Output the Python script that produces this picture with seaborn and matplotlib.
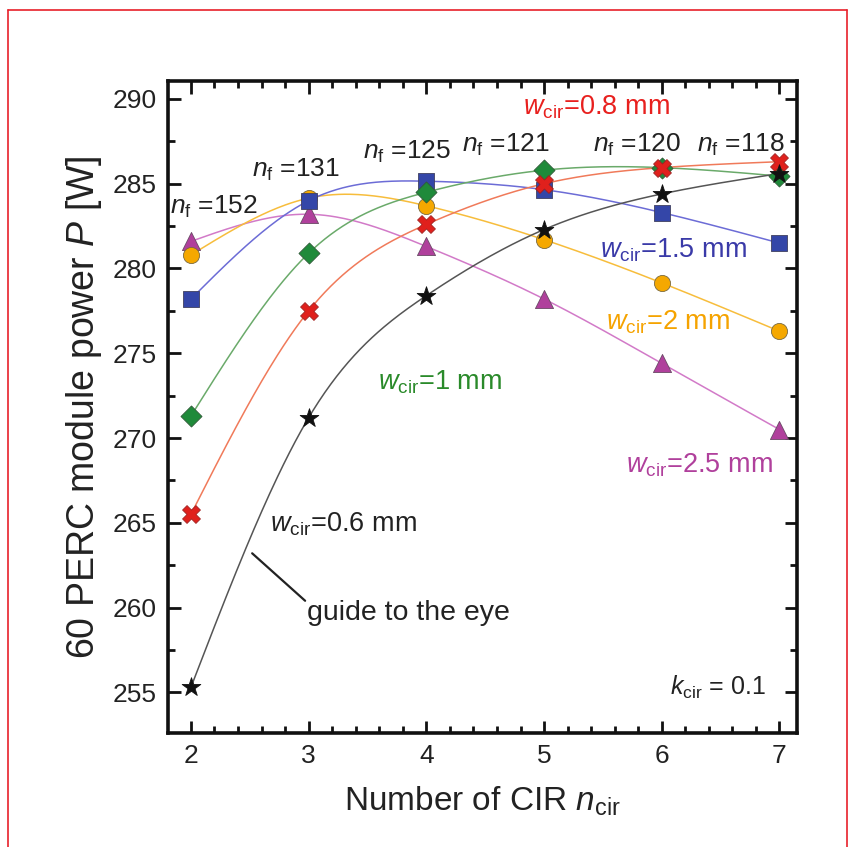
import numpy as np
import pandas as pd
import matplotlib
matplotlib.use("Agg")
import matplotlib.pyplot as plt
import seaborn as sns
from matplotlib.lines import Line2D
from matplotlib.ticker import MultipleLocator

# ---------------- data ----------------
n_cir = [2, 3, 4, 5, 6, 7]
p_w06 = [255.3, 271.2, 278.4, 282.3, 284.4, 285.6]
p_w08 = [265.5, 277.5, 282.6, 285.0, 285.95, 286.3]
p_w10 = [271.3, 280.9, 284.5, 285.8, 285.95, 285.45]
p_w15 = [278.2, 284.0, 285.15, 284.65, 283.3, 281.5]
p_w20 = [280.8, 284.15, 283.7, 281.7, 279.15, 276.3]
p_w25 = [281.6, 283.2, 281.3, 278.2, 274.4, 270.5]
nf_values = ["152", "131", "125", "121", "120", "118"]
x_ticks = [2, 3, 4, 5, 6, 7]
y_ticks = [255, 260, 265, 270, 275, 280, 285, 290]

sns.set_theme(style="ticks")
plt.rcParams["font.family"] = ["Liberation Sans", "DejaVu Sans"]
plt.rcParams["mathtext.fontset"] = "custom"
plt.rcParams["mathtext.rm"] = "Liberation Sans"
plt.rcParams["mathtext.it"] = "Liberation Sans:italic"
plt.rcParams["mathtext.bf"] = "Liberation Sans:bold"


def natural_spline(x, y, n=300):
    x = np.asarray(x, float)
    y = np.asarray(y, float)
    m = len(x)
    h = np.diff(x)
    A = np.zeros((m, m))
    b = np.zeros(m)
    A[0, 0] = 1
    A[-1, -1] = 1
    for i in range(1, m - 1):
        A[i, i - 1] = h[i - 1]
        A[i, i] = 2 * (h[i - 1] + h[i])
        A[i, i + 1] = h[i]
        b[i] = 3 * ((y[i + 1] - y[i]) / h[i] - (y[i] - y[i - 1]) / h[i - 1])
    c = np.linalg.solve(A, b)
    bc = (y[1:] - y[:-1]) / h - h * (2 * c[:-1] + c[1:]) / 3
    d = (c[1:] - c[:-1]) / (3 * h)
    xs = np.linspace(x[0], x[-1], n)
    idx = np.clip(np.searchsorted(x, xs, side="right") - 1, 0, m - 2)
    dx = xs - x[idx]
    ys = y[idx] + bc[idx] * dx + c[idx] * dx ** 2 + d[idx] * dx ** 3
    return xs, ys


fig = plt.figure(figsize=(8.49, 8.47), dpi=100)
ax = fig.add_axes([168 / 849, 1 - 733 / 847, (797 - 168) / 849, (733 - 81) / 847])

# series: (values, line colour, marker, face colour, size, edge)
series = [
    (p_w25, "#d27ac8", "^", "#b0409c", 170, "#6a4a66"),
    (p_w20, "#f7bd3c", "o", "#f5a800", 135, "#7a6a40"),
    (p_w15, "#6c6cd6", "s", "#3446a8", 140, "#404060"),
    (p_w10, "#6aaa6a", "D", "#1f8a3a", 115, "#305a38"),
    (p_w08, "#f07a5a", "X", "#e0201c", 165, "#a02020"),
    (p_w06, "#555555", "*", "#111111", 200, "#111111"),
]

for vals, lc, mk, fc, sz, ec in series:
    xs, ys = natural_spline(n_cir, vals)
    sns.lineplot(x=xs, y=ys, color=lc, lw=1.1, ax=ax, sort=False, zorder=2)

for k, (vals, lc, mk, fc, sz, ec) in enumerate(series):
    sns.scatterplot(x=n_cir, y=vals, marker=mk, s=sz, color=fc,
                    edgecolor=ec, linewidth=0.6, ax=ax, zorder=4 + k)

ax.set_xlim(1.805, 7.149)
ax.set_ylim(252.6, 291.06)
ax.set_xticks(x_ticks)
ax.set_yticks(y_ticks)
ax.xaxis.set_minor_locator(MultipleLocator(0.2))
ax.yaxis.set_minor_locator(MultipleLocator(2.5))
ax.tick_params(which="both", direction="in", top=True, right=True,
               width=2.0, colors="#111111", labelsize=19, labelcolor="#222222")
ax.tick_params(which="major", length=9, pad=8)
ax.tick_params(which="minor", length=5)
for sp in ax.spines.values():
    sp.set_linewidth(2.6)
    sp.set_color("#111111")

ax.set_xlabel(r"Number of CIR $n_{\mathrm{cir}}$", fontsize=24, color="#222222", labelpad=12)
ax.set_ylabel(r"60 PERC module power $P$ [W]", fontsize=27, color="#222222", labelpad=6)

# n_f annotations
nf_pos = [(1.82, 283.65), (2.52, 285.8), (3.46, 286.9), (4.3, 287.3), (5.415, 287.3), (6.30, 287.3)]
for (xx, yy), v in zip(nf_pos, nf_values):
    ax.text(xx, yy, r"$n_{\mathrm{f}}$ =" + v, fontsize=19, color="#222222", ha="left", va="center")

wlab = [
    (4.82, 289.5, "0.8 mm", "#e8201e"),
    (5.475, 281.1, "1.5 mm", "#3a3aa8"),
    (5.53, 276.8, "2 mm", "#f5a300"),
    (5.70, 268.4, "2.5 mm", "#b0409c"),
    (3.59, 273.3, "1 mm", "#2a8a2a"),
    (2.67, 264.9, "0.6 mm", "#222222"),
]
for xx, yy, t, c in wlab:
    ax.text(xx, yy, r"$w_{\mathrm{cir}}$=" + t, fontsize=19.5, color=c, ha="left", va="center")

ax.add_line(Line2D([2.52, 2.97], [263.2, 260.4], color="#222222", lw=1.6))
ax.text(2.99, 259.7, "guide to the eye", fontsize=20.5, color="#222222", ha="left", va="center")
ax.text(6.07, 255.3, r"$k_{\mathrm{cir}}$ = 0.1", fontsize=18, color="#222222", ha="left", va="center")

# red frame of the page
frame_c = "#e8202a"
fig.add_artist(Line2D([8 / 849, 847 / 849], [1 - 10 / 847, 1 - 10 / 847], transform=fig.transFigure, color=frame_c, lw=1.2))
fig.add_artist(Line2D([8 / 849, 8 / 849], [1 - 10 / 847, 0], transform=fig.transFigure, color=frame_c, lw=1.2))
fig.add_artist(Line2D([847 / 849, 847 / 849], [1 - 10 / 847, 0], transform=fig.transFigure, color=frame_c, lw=1.2))

fig.savefig("out.png", dpi=100, facecolor="white")
